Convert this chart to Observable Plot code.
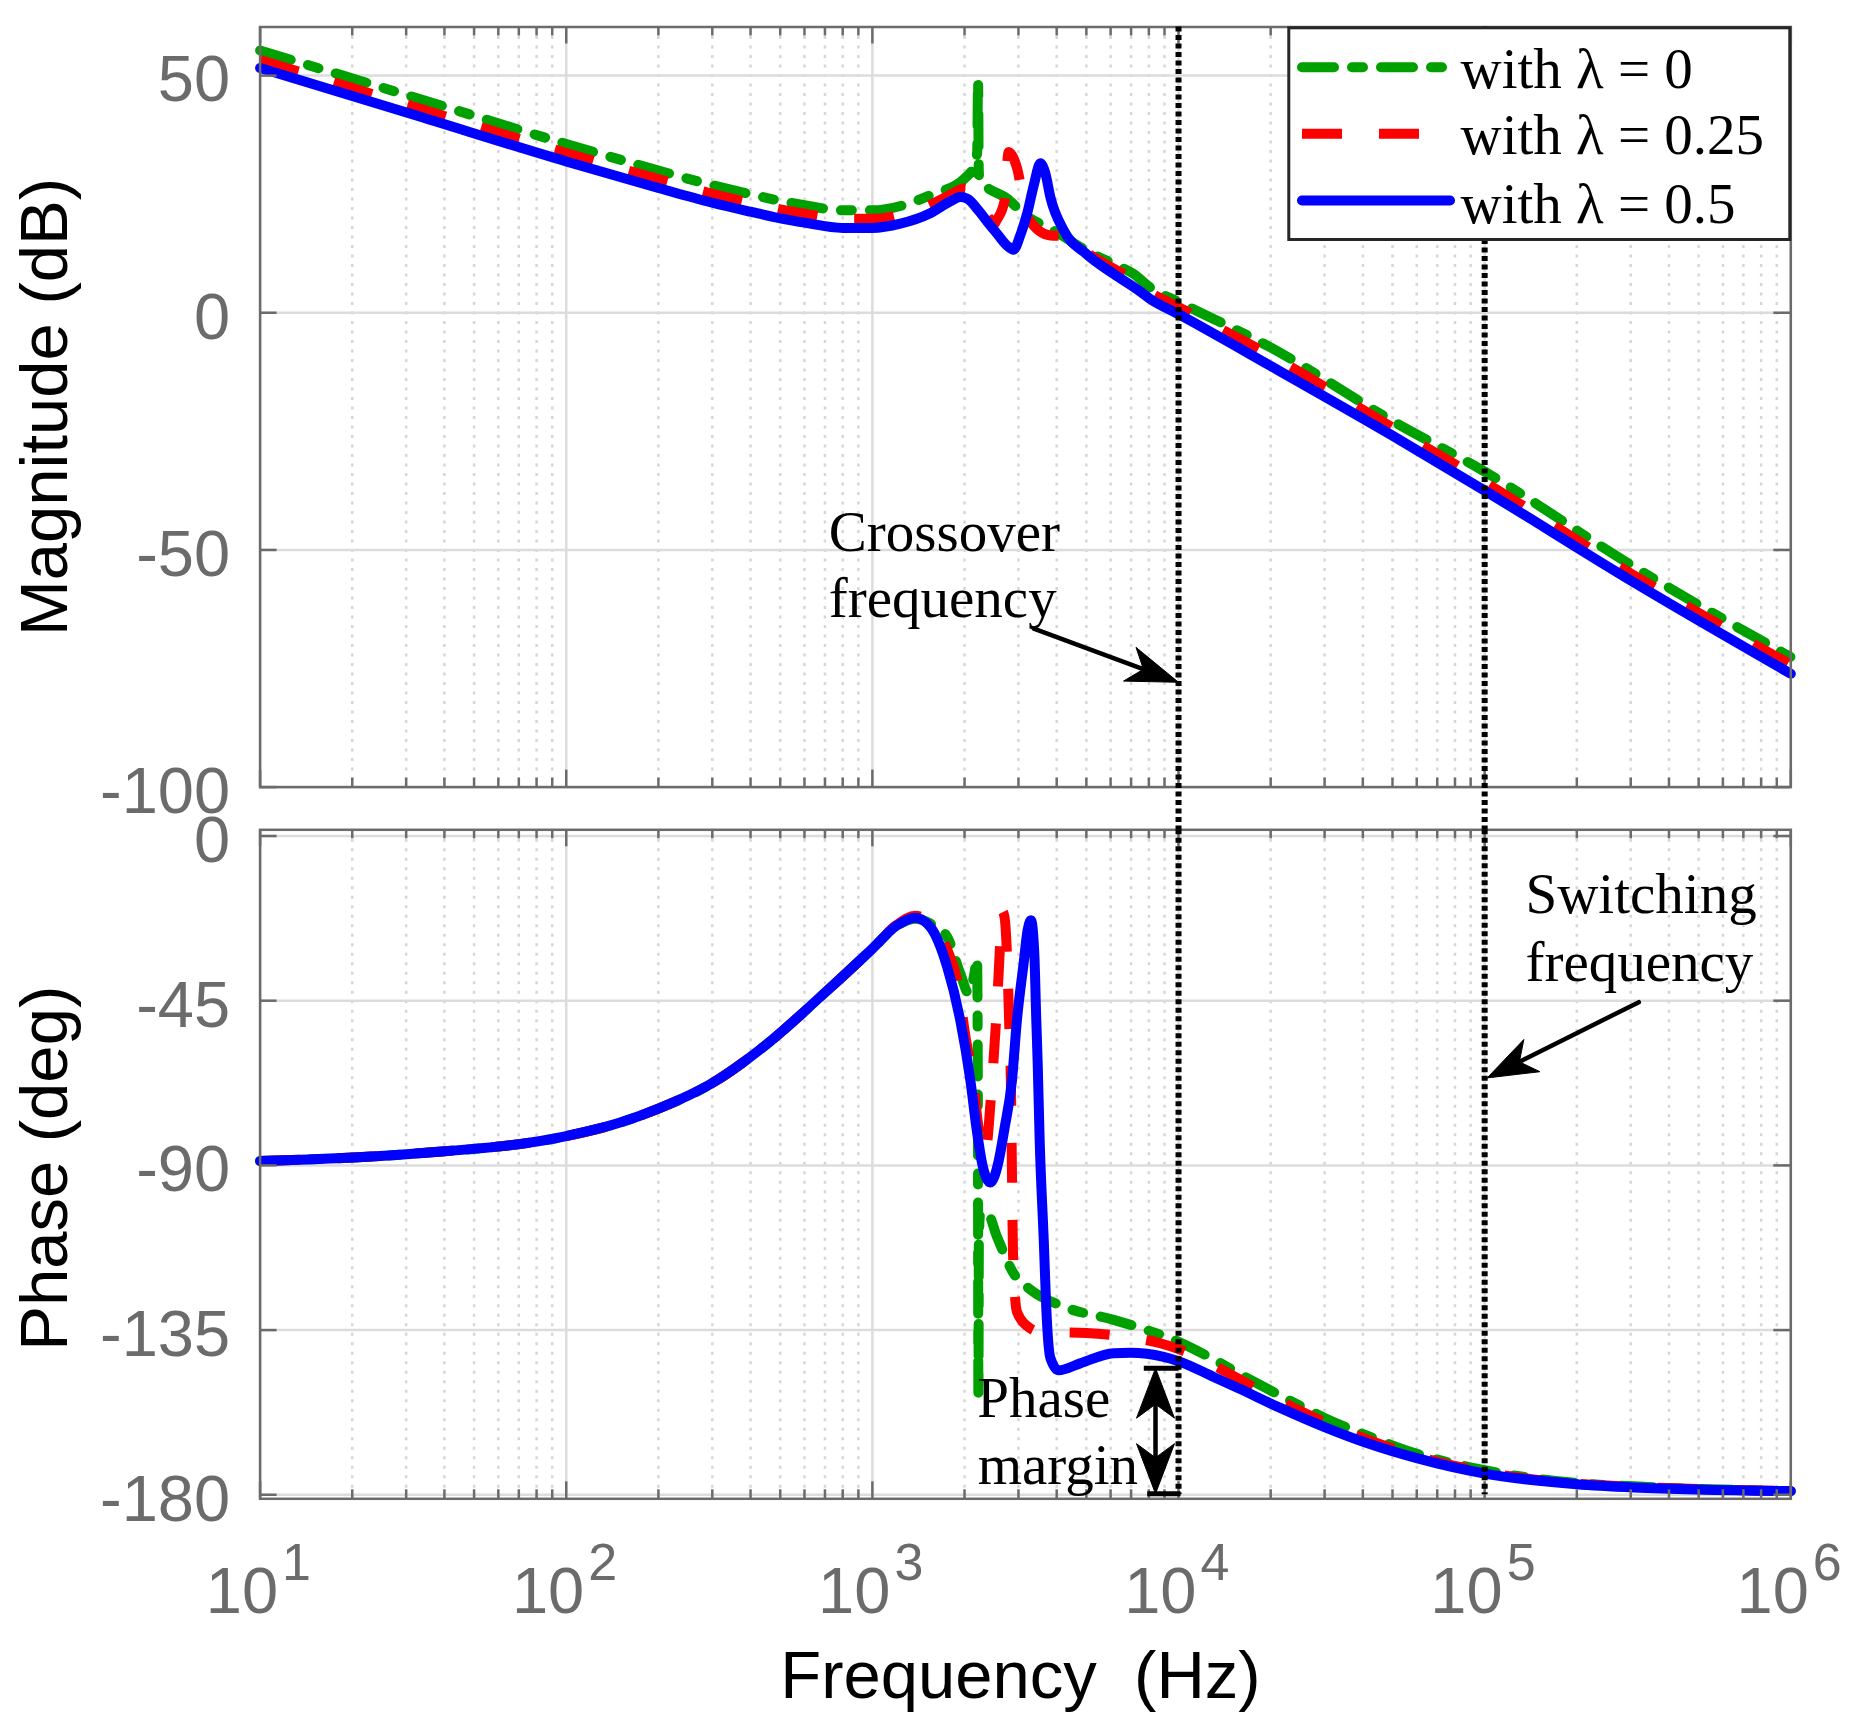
<!DOCTYPE html>
<html>
<head>
<meta charset="utf-8">
<script src="https://cdn.jsdelivr.net/npm/d3@7"></script>
<script src="https://cdn.jsdelivr.net/npm/@observablehq/plot@0.6"></script>
<style>
html, body { margin: 0; padding: 0; background: #fff; }
#chart { position: relative; width: 1851px; height: 1718px; }
#chart svg { position: absolute; left: 0; top: 0; display: block; max-width: none; background: transparent; overflow: visible; }
#chart svg text { white-space: pre; }
</style>
</head>
<body>
<div id="chart"></div>
<script>
// ---------------- DATA ----------------
const freqTicks = [1e1, 1e2, 1e3, 1e4, 1e5, 1e6];
const freqExponents = ["1", "2", "3", "4", "5", "6"];
const magTicks = [-100, -50, 0, 50];
const phaseTicks = [-180, -135, -90, -45, 0];
const seriesNames = ["with \u03bb = 0", "with \u03bb = 0.25", "with \u03bb = 0.5"];
const markerFreqs = [1e4, 1e5];

// magnitude [Hz, dB]
const magGreen = [
  [10, 55.3], [31.6, 45.5], [100, 35.6], [200, 30.0], [300, 26.9], [400, 25.0], [500, 23.6], [600, 22.7], [800, 21.6],
  [1000, 21.6], [1250, 22.6], [1545, 24.8], [2000, 28.3], [2168, 31.5], [2200, 34], [2214, 49], [2226, 30], [2240, 27.8],
  [2358, 26.5], [2754, 24.1], [3113, 20.9], [4000, 17.0], [5000, 13.1], [6138, 10.3], [7130, 8.2], [8090, 5.3],
  [1e4, 2.3], [19980, -7.3], [49350, -22.6], [1e5, -33.5], [301000, -53.2], [1e6, -72.6]
];
const magRed = [
  [10, 53.3], [31.6, 43.5], [100, 33.7], [200, 28.2], [300, 25.1], [400, 23.2], [500, 21.8], [600, 20.9], [800, 19.8],
  [1000, 19.8], [1250, 20.8], [1545, 22.8], [1754, 24.5], [2000, 26.2], [2200, 24.3], [2400, 20.0], [2480, 18.5], [2550, 19.6],
  [2700, 23.5], [2787, 33.9], [2870, 33.0], [2966, 30.6], [3202, 20.2], [3813, 16.3], [4215, 16.2], [5000, 12.7],
  [6138, 9.3], [7130, 7.0], [8090, 4.3], [1e4, 1.2], [19980, -9.0], [49350, -24.0], [1e5, -35.7], [301000, -55.0], [1e6, -74.2]
];
const magBlue = [
  [10, 51.6], [31.6, 41.8], [100, 31.9], [200, 26.3], [300, 23.2], [400, 21.3], [500, 19.9], [600, 19.0], [800, 17.9],
  [1000, 17.9], [1234, 18.8], [1545, 21.0], [1800, 23.5], [1936, 24.4], [2050, 24.0], [2219, 21.6], [2400, 18.8],
  [2553, 16.7], [2750, 14.2], [2893, 13.3], [3040, 16.3], [3202, 20.9], [3370, 27.0], [3538, 31.5], [3670, 29.5],
  [3813, 24.4], [4215, 17.4], [5000, 12.4], [6138, 8.2], [7311, 5.0], [8090, 2.9], [1e4, -0.3], [19980, -11.2],
  [49350, -25.7], [1e5, -37.5], [301000, -56.5], [1e6, -76.1]
];

// phase [Hz, deg]
const phaseGreen = [
  [10, -88.8], [31.6, -86.8], [100, -82.0], [150, -78.3], [200, -74.5], [300, -67.5], [450, -57.0], [700, -42.8],
  [1000, -30.8], [1200, -24.6], [1381, -22.6], [1545, -23.9], [1754, -27.5], [1936, -37.5], [2064, -43], [2150, -38],
  [2198, -33.4], [2212, -80], [2220, -153.5], [2228, -110], [2250, -103], [2369, -102.9], [2553, -109.5], [2893, -119.5],
  [3290, -124], [4215, -128.6], [6138, -132.2], [7890, -135], [1e4, -138.2], [13020, -143.0], [15700, -146.8],
  [21400, -152.8], [30000, -159.0], [41700, -164.0], [60000, -168.8], [1e5, -173.3], [2e5, -176.8], [307000, -177.7], [1e6, -179.0]
];
const phaseRed = [
  [10, -88.8], [31.6, -86.8], [100, -82.0], [150, -78.3], [200, -74.5], [300, -67.5], [450, -57.0], [700, -42.8],
  [1000, -30.8], [1200, -24.3], [1381, -21.8], [1545, -23.5], [1754, -31], [1891, -39.3], [2014, -54.8], [2132, -66.7],
  [2219, -79.4], [2330, -87], [2460, -66.9], [2554, -45.9], [2620, -28], [2652, -20.5], [2700, -22], [2760, -35],
  [2800, -52], [2837, -69.8], [2858, -92.9], [2880, -114.3], [2966, -130], [3202, -133.9], [3538, -135.5], [5000, -135.8],
  [6706, -136.8], [8720, -138.6], [1e4, -140.2], [11480, -142.3], [15700, -148.3], [21400, -154.3], [30000, -160.2],
  [41700, -165.0], [60000, -169.4], [1e5, -173.8], [2e5, -177.0], [307000, -177.8], [1e6, -179.0]
];
const phaseBlue = [
  [10, -88.8], [31.6, -86.8], [100, -82.0], [150, -78.3], [200, -74.5], [300, -67.5], [450, -57.0], [700, -42.8],
  [1000, -30.8], [1200, -24.5], [1381, -22.3], [1545, -24.8], [1754, -35.7], [1936, -50.3], [2089, -66.7], [2198, -81],
  [2290, -90], [2428, -94.7], [2585, -88.8], [2700, -80], [2858, -66.7], [2966, -50.3], [3119, -34.8], [3210, -26],
  [3297, -23], [3380, -32], [3430, -50], [3467, -62], [3519, -83], [3630, -110.7], [3698, -128.9], [3813, -142.6],
  [4058, -146.0], [4774, -144.1], [6138, -141.3], [6958, -141.2], [8933, -142.3], [1e4, -143.5], [13020, -147.8],
  [15700, -150.9], [21400, -156.2], [30000, -161.5], [41700, -166.0], [60000, -170.0], [1e5, -174.2], [2e5, -177.1],
  [307000, -178.0], [1e6, -179.0]
];

// annotation texts (anchored in data units)
const crossoverLabel = [{f: 720.5, v: -46.3, t: "Crossover"}, {f: 720.5, v: -60.3, t: "frequency"}];
const switchingLabel = [{f: 135950, v: -16.1, t: "Switching"}, {f: 135950, v: -34.5, t: "frequency"}];
const marginLabel = [{f: 2200, v: -153.8, t: "Phase"}, {f: 2207, v: -172.0, t: "margin"}];
const crossoverArrow = {tail: [3367, -66.6], tip: [1e4, -77.9]};
const switchingArrow = {tail: [318800, -45.4], tip: [101900, -66.1]};
const marginArrow = {f: 8411, top: -145.4, bottom: -179.7};
const marginBars = [[[7701, -145.4], [1e4, -145.4]], [[7902, -179.7], [10150, -179.7]]];

// ---------------- LAYOUT / STYLE ----------------
const W = 1851, H = 1718;
const xDomain = [10, 1e6];
const magDomain = [-100, 60.25];
const phaseDomain = [-181.1, 1.7];
const fL = 259.6, fR = 1790.3;
const topT = 26.5, topB = 786.6, botT = 829.3, botB = 1498.3;
const frameW = fR - fL, topFH = topB - topT, botFH = botB - botT;
const axisGray = "#6b6b6b";
const sansFont = "'Liberation Sans', Arial, Helvetica, sans-serif";
const serifFont = "'Liberation Serif', 'Times New Roman', Times, serif";
const lineW = 10;

const seriesStyle = [
  {stroke: "#00a000", strokeDasharray: "32,18,11,18", strokeLinecap: "round"},
  {stroke: "#ff0000", strokeDasharray: "40,37", strokeLinecap: "butt"},
  {stroke: "#0000ff", strokeLinecap: "round"}
];

const minorX = [];
for (let e = 1; e < 6; e++) for (let m = 2; m <= 9; m++) minorX.push(m * Math.pow(10, e));

const fx = d => d[0], fv = d => d[1];

const xPx = d3.scaleLog(xDomain, [fL, fR]);
const yMagPx = d3.scaleLinear(magDomain, [topB, topT]);
const yPhPx = d3.scaleLinear(phaseDomain, [botB, botT]);

function gridMarks(yTicks) {
  return [
    Plot.ruleX(minorX, {x: d => d, stroke: "#d6d6d6", strokeWidth: 2.5, strokeDasharray: "3,6.5"}),
    Plot.ruleX(freqTicks, {x: d => d, stroke: "#dcdcdc", strokeWidth: 2.5}),
    Plot.ruleY(yTicks, {y: d => d, stroke: "#dcdcdc", strokeWidth: 2.5})
  ];
}
function frameMarks(yTicks, fh) {
  const s = {stroke: axisGray, strokeWidth: 2.5};
  return [
    Plot.tickX(freqTicks, {x: d => d, ...s, insetBottom: fh - 17}),
    Plot.tickX(freqTicks, {x: d => d, ...s, insetTop: fh - 17}),
    Plot.tickX(minorX, {x: d => d, ...s, insetBottom: fh - 9}),
    Plot.tickX(minorX, {x: d => d, ...s, insetTop: fh - 9}),
    Plot.tickY(yTicks, {y: d => d, ...s, insetRight: frameW - 17}),
    Plot.tickY(yTicks, {y: d => d, ...s, insetLeft: frameW - 17}),
    Plot.frame({stroke: axisGray, strokeWidth: 2.5})
  ];
}
function curveMarks(list) {
  return list.map((data, i) => Plot.line(data, {x: fx, y: fv, curve: "monotone-x", strokeWidth: lineW, strokeLinejoin: "round", ...seriesStyle[i]}));
}
function yTickLabels(ticks) {
  return Plot.text(ticks, {y: d => d, text: d => String(d), frameAnchor: "left", textAnchor: "end", lineAnchor: "middle", dx: -30, dy: 5,
    fontSize: 65, fontFamily: sansFont, fill: axisGray});
}
function annotationText(list) {
  return Plot.text(list, {x: d => d.f, y: d => d.v, text: d => d.t, textAnchor: "start", lineAnchor: "middle", fontSize: 57,
    fontFamily: serifFont, fill: "black"});
}
function headPoints(tipPx, dirX, dirY, yScale, L, w) {
  const px = -dirY, py = dirX;
  const [hx, hy] = tipPx;
  const pts = [[hx, hy], [hx - L * dirX + w * px, hy - L * dirY + w * py], [hx - 0.72 * L * dirX, hy - 0.72 * L * dirY],
    [hx - L * dirX - w * px, hy - L * dirY - w * py], [hx, hy]];
  return pts.map(([x, y]) => [xPx.invert(x), yScale.invert(y)]);
}
function arrowMarks(tail, tip, yScale, L = 52, w = 18) {
  const tx = xPx(tail[0]), ty = yScale(tail[1]);
  const hx = xPx(tip[0]), hy = yScale(tip[1]);
  const len = Math.hypot(hx - tx, hy - ty), ux = (hx - tx) / len, uy = (hy - ty) / len;
  const shaftEnd = [xPx.invert(hx - 0.6 * L * ux), yScale.invert(hy - 0.6 * L * uy)];
  return [
    Plot.line([tail, shaftEnd], {x: fx, y: fv, stroke: "black", strokeWidth: 4.5, strokeLinecap: "round"}),
    Plot.line(headPoints([hx, hy], ux, uy, yScale, L, w), {x: fx, y: fv, fill: "black", stroke: "black", strokeWidth: 1, strokeLinejoin: "miter"})
  ];
}

// ---------------- TOP: MAGNITUDE ----------------
const legendRows = [40.2, 106.8, 173.5];
const legendTextRows = [42.3, 108.9, 177.3];
const legendMarks = [
  Plot.frame({insetLeft: 1288.3 - fL, insetBottom: topB - 239, insetTop: 0.8, insetRight: 1, fill: "white", stroke: "#262626", strokeWidth: 3}),
  ...seriesNames.map((name, i) => Plot.ruleY([magDomain[1]], {y: d => d, dy: legendRows[i], insetLeft: 1302 - fL, insetRight: fR - 1450,
    strokeWidth: lineW, ...seriesStyle[i]})),
  ...seriesNames.map((name, i) => Plot.text([name], {text: d => d, frameAnchor: "top-right", dx: -(fR - 1460), dy: legendTextRows[i],
    textAnchor: "start", lineAnchor: "middle", fontSize: 57, fontFamily: serifFont, fill: "black"}))
];

const dotted = {stroke: "black", strokeWidth: 6, strokeDasharray: "5,3.5"};

const magPlot = Plot.plot({
  width: W, height: H,
  marginLeft: fL, marginRight: W - fR, marginTop: topT, marginBottom: H - topB,
  x: {type: "log", domain: xDomain, axis: null},
  y: {domain: magDomain, axis: null},
  style: {background: "transparent", overflow: "visible"},
  marks: [
    ...gridMarks(magTicks),
    ...curveMarks([magGreen, magRed, magBlue]),
    ...frameMarks(magTicks, topFH),
    Plot.ruleX(markerFreqs, {x: d => d, ...dotted, insetBottom: -(botT - topB)}),
    annotationText(crossoverLabel),
    ...arrowMarks(crossoverArrow.tail, crossoverArrow.tip, yMagPx, 52, 18),
    ...legendMarks,
    yTickLabels(magTicks),
    Plot.text(["Magnitude (dB)"], {text: d => d, frameAnchor: "left", textAnchor: "middle", lineAnchor: "middle", rotate: -90, dx: -215,
      fontSize: 67, fontFamily: sansFont, fill: "black"})
  ]
});

// ---------------- BOTTOM: PHASE ----------------
const mTopPx = yPhPx(marginArrow.top), mBotPx = yPhPx(marginArrow.bottom), mXPx = xPx(marginArrow.f);
const marginMarks = [
  ...marginBars.map(b => Plot.line(b, {x: fx, y: fv, stroke: "black", strokeWidth: 5, strokeLinecap: "butt"})),
  Plot.line([[marginArrow.f, yPhPx.invert(mTopPx + 30)], [marginArrow.f, yPhPx.invert(mBotPx - 30)]], {x: fx, y: fv, stroke: "black", strokeWidth: 4.5}),
  Plot.line(headPoints([mXPx, mTopPx], 0, -1, yPhPx, 50, 19), {x: fx, y: fv, fill: "black", stroke: "black", strokeWidth: 1, strokeLinejoin: "miter"}),
  Plot.line(headPoints([mXPx, mBotPx], 0, 1, yPhPx, 50, 19), {x: fx, y: fv, fill: "black", stroke: "black", strokeWidth: 1, strokeLinejoin: "miter"})
];

const phasePlot = Plot.plot({
  width: W, height: H,
  marginLeft: fL, marginRight: W - fR, marginTop: botT, marginBottom: H - botB,
  x: {type: "log", domain: xDomain, axis: null},
  y: {domain: phaseDomain, axis: null},
  style: {background: "transparent", overflow: "visible"},
  marks: [
    ...gridMarks(phaseTicks),
    ...curveMarks([phaseGreen, phaseRed, phaseBlue]),
    ...frameMarks(phaseTicks, botFH),
    Plot.ruleX(markerFreqs, {x: d => d, y1: phaseDomain[1], y2: -180, ...dotted}),
    annotationText(switchingLabel),
    ...arrowMarks(switchingArrow.tail, switchingArrow.tip, yPhPx, 50, 18),
    annotationText(marginLabel),
    ...marginMarks,
    yTickLabels(phaseTicks),
    Plot.text(freqTicks, {x: d => d, text: () => "10", frameAnchor: "bottom", textAnchor: "end", lineAnchor: "middle", dx: 18, dy: 93.3,
      fontSize: 65, fontFamily: sansFont, fill: axisGray}),
    Plot.text(freqTicks, {x: d => d, text: (d, i) => freqExponents[i], frameAnchor: "bottom", textAnchor: "start", lineAnchor: "middle", dx: 22, dy: 64.7,
      fontSize: 52, fontFamily: sansFont, fill: axisGray}),
    Plot.text(["Phase (deg)"], {text: d => d, frameAnchor: "left", textAnchor: "middle", lineAnchor: "middle", rotate: -90, dx: -215, dy: 4,
      fontSize: 67, fontFamily: sansFont, fill: "black"}),
    Plot.text(["Frequency  (Hz)"], {text: d => d, frameAnchor: "bottom", textAnchor: "middle", lineAnchor: "middle", dx: -5, dy: 177.3,
      fontSize: 67, fontFamily: sansFont, fill: "black"})
  ]
});

const chart = document.getElementById("chart");
chart.appendChild(phasePlot);
chart.appendChild(magPlot);
</script>
</body>
</html>
